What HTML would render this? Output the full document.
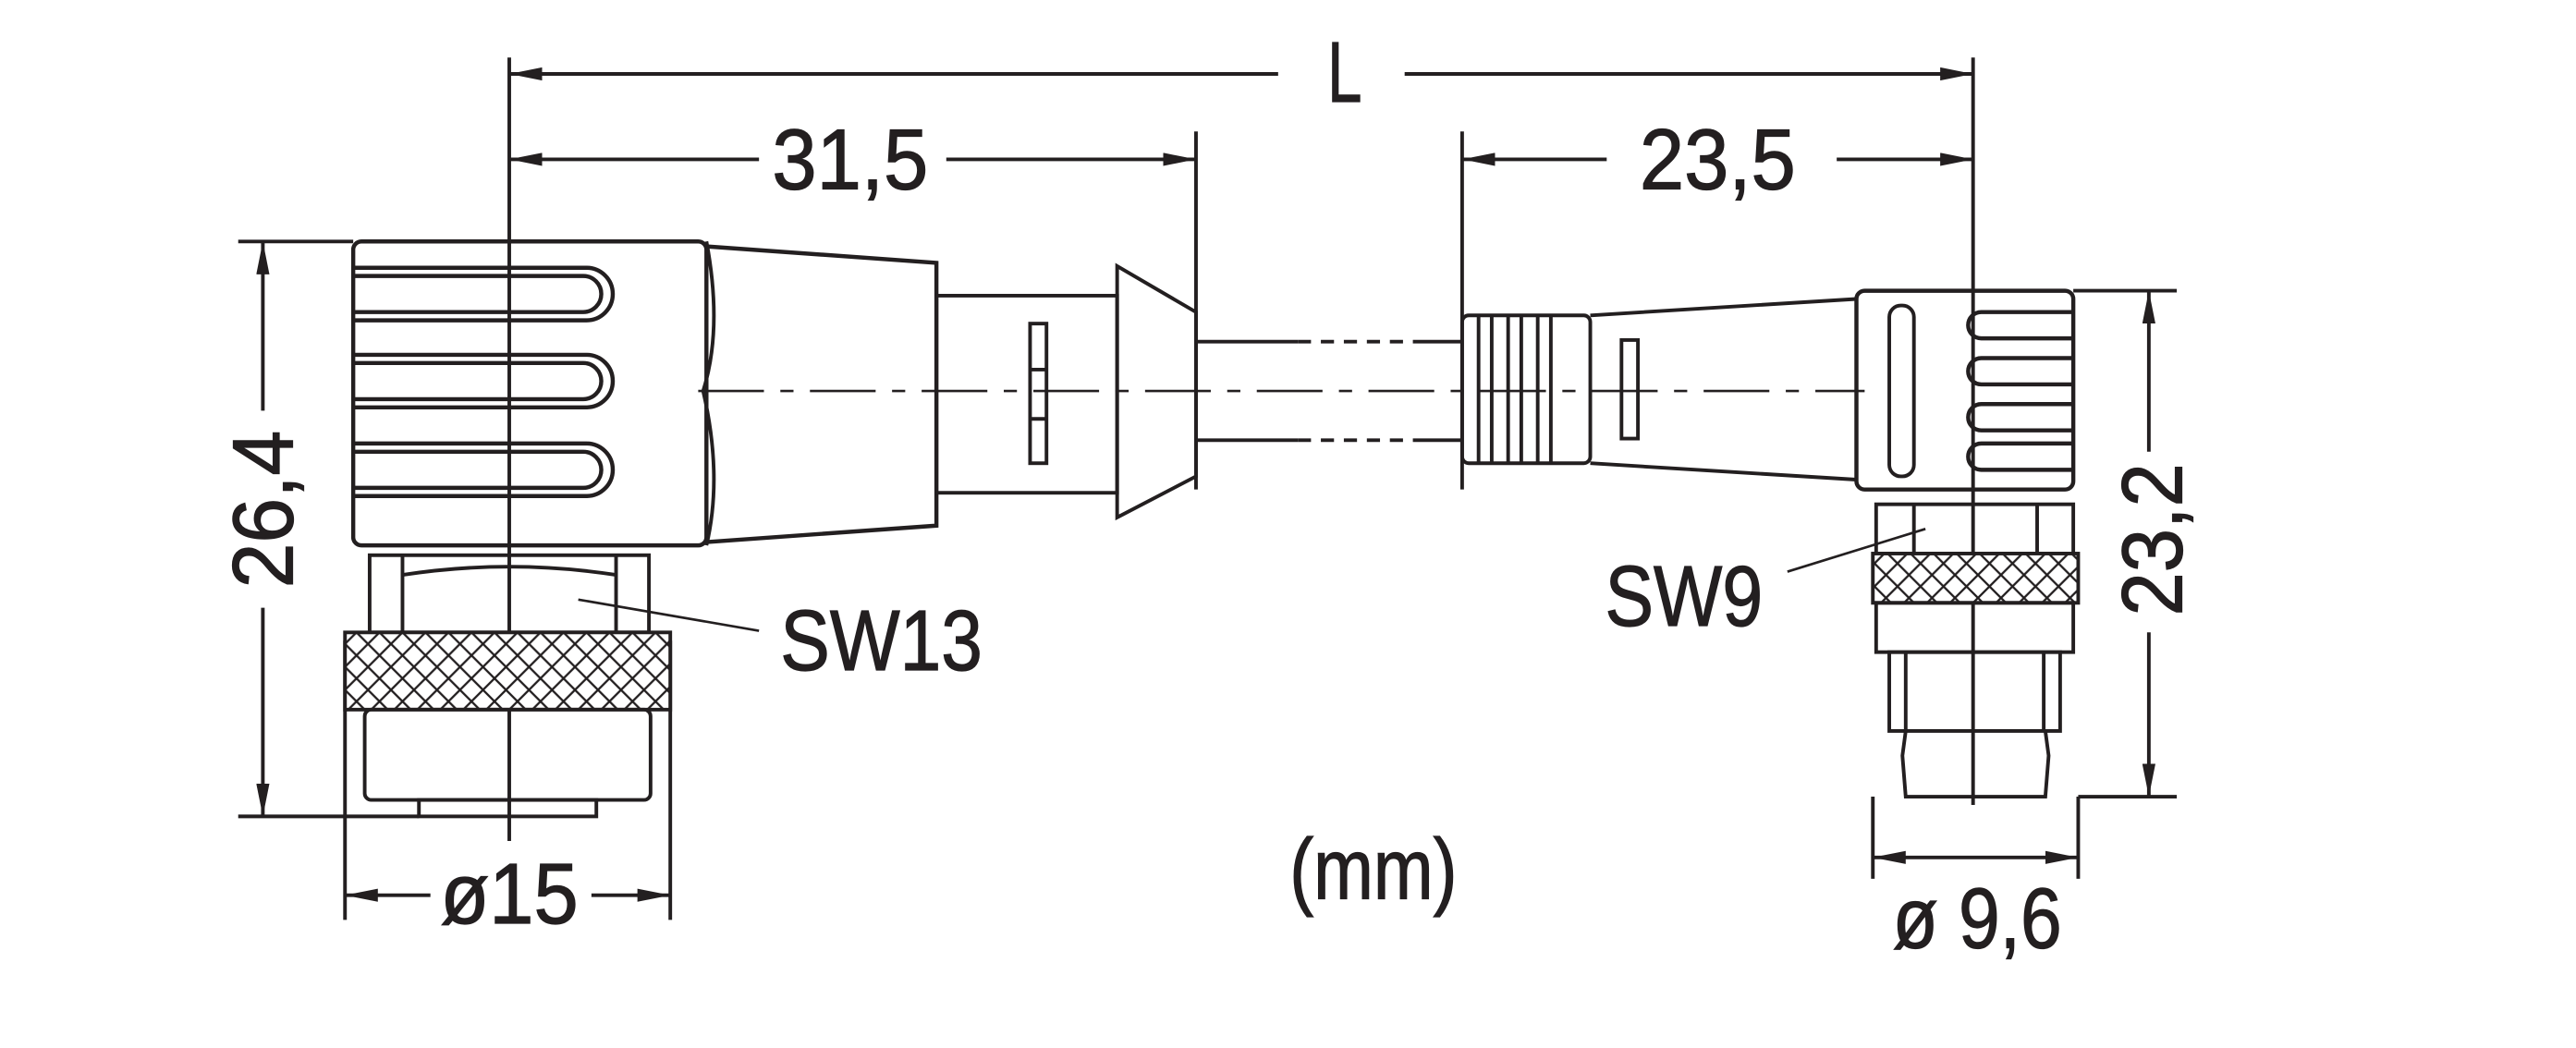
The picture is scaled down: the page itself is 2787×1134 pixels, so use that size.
<!DOCTYPE html>
<html><head><meta charset="utf-8"><style>
html,body{margin:0;padding:0;background:#fff;}
svg{display:block;}
text{font-family:"Liberation Sans Narrow","Liberation Sans",sans-serif;fill:#231f20;stroke:#231f20;stroke-width:0.7;}
</style></head><body>
<svg width="2787" height="1134" viewBox="0 0 1568 638" xmlns="http://www.w3.org/2000/svg">
<defs>
<pattern id="kn" width="14" height="14" patternUnits="userSpaceOnUse">
<rect width="14" height="14" fill="#fff"/>
<path d="M0 0L14 14M14 0L0 14M-7 7L7 21M7 -7L21 7M7 -7L-7 7M21 7L7 21" stroke="#231f20" stroke-width="1.3"/>
</pattern>
<marker id="a" viewBox="0 0 20 8" refX="20" refY="4" markerWidth="20" markerHeight="8" orient="auto-start-reverse" markerUnits="userSpaceOnUse">
<path d="M0 0L20 4L0 8Z" fill="#231f20"/></marker>
</defs>
<g stroke="#231f20" stroke-width="2.2" fill="none">
<line x1="310" y1="35" x2="310" y2="512"/>
<line x1="728" y1="80" x2="728" y2="298"/>
<line x1="890" y1="80" x2="890" y2="298"/>
<line x1="1201" y1="35" x2="1201" y2="490"/>
<line x1="145" y1="147" x2="215" y2="147"/>
<line x1="145" y1="497" x2="255" y2="497"/>
<line x1="1262" y1="177" x2="1325" y2="177"/>
<line x1="1265" y1="485" x2="1325" y2="485"/>
<line x1="210" y1="390" x2="210" y2="560"/>
<line x1="408" y1="390" x2="408" y2="560"/>
<line x1="1140" y1="485" x2="1140" y2="535"/>
<line x1="1265" y1="485" x2="1265" y2="535"/>
<line x1="310" y1="45" x2="778" y2="45" marker-start="url(#a)"/>
<line x1="855" y1="45" x2="1201" y2="45" marker-end="url(#a)"/>
<line x1="310" y1="97" x2="462" y2="97" marker-start="url(#a)"/>
<line x1="576" y1="97" x2="728" y2="97" marker-end="url(#a)"/>
<line x1="890" y1="97" x2="978" y2="97" marker-start="url(#a)"/>
<line x1="1118" y1="97" x2="1201" y2="97" marker-end="url(#a)"/>
<line x1="160" y1="147" x2="160" y2="250" marker-start="url(#a)"/>
<line x1="160" y1="370" x2="160" y2="497" marker-end="url(#a)"/>
<line x1="1308" y1="177" x2="1308" y2="275" marker-start="url(#a)"/>
<line x1="1308" y1="385" x2="1308" y2="485" marker-end="url(#a)"/>
<line x1="210" y1="545" x2="262" y2="545" marker-start="url(#a)"/>
<line x1="360" y1="545" x2="408" y2="545" marker-end="url(#a)"/>
<line x1="1140" y1="522" x2="1265" y2="522" marker-start="url(#a)" marker-end="url(#a)"/>
<line x1="352" y1="365" x2="462" y2="384" stroke-width="1.5"/>
<line x1="1088" y1="348" x2="1172" y2="322" stroke-width="1.5"/>
<line x1="425" y1="238" x2="1135" y2="238" stroke-dasharray="40 10 8 10" stroke-width="1.5"/>
<rect x="215" y="147" width="215" height="185" rx="5" stroke-width="2.5"/>
<path d="M430 147Q440 200 428 238Q440 290 430 332"/>
<path d="M430 150L570 160L570 320L430 330" stroke-width="2.5"/>
<g stroke-width="2.5">
<path d="M215 163H357A16 16 0 0 1 357 195H215"/><path d="M215 168H355A11 11 0 0 1 355 190H215"/>
<path d="M215 216H357A16 16 0 0 1 357 248H215"/><path d="M215 221H355A11 11 0 0 1 355 243H215"/>
<path d="M215 270H357A16 16 0 0 1 357 302H215"/><path d="M215 275H355A11 11 0 0 1 355 297H215"/>
</g>
<rect x="570" y="180" width="110" height="120"/>
<rect x="627" y="197" width="10" height="85"/>
<line x1="627" y1="225" x2="637" y2="225"/><line x1="627" y1="255" x2="637" y2="255"/>
<path d="M680 162L728 190L728 290L680 315Z"/>
<path d="M728 208H790M860 208H890"/><path d="M790 208H860" stroke-dasharray="8 6"/>
<path d="M728 268H790M860 268H890"/><path d="M790 268H860" stroke-dasharray="8 6"/>
<rect x="225" y="338" width="170" height="47"/>
<line x1="245" y1="338" x2="245" y2="385"/><line x1="375" y1="338" x2="375" y2="385"/>
<path d="M245 350Q310 340 375 350"/>
<rect x="210" y="385" width="198" height="47" fill="url(#kn)"/>
<rect x="222" y="432" width="174" height="55" rx="4"/>
<rect x="255" y="487" width="108" height="10"/>
<rect x="890" y="192" width="78" height="90" rx="4"/>
<g><line x1="900" y1="192" x2="900" y2="282"/><line x1="908" y1="192" x2="908" y2="282"/>
<line x1="918" y1="192" x2="918" y2="282"/><line x1="926" y1="192" x2="926" y2="282"/>
<line x1="936" y1="192" x2="936" y2="282"/><line x1="944" y1="192" x2="944" y2="282"/></g>
<path d="M968 192L1130 182M968 282L1130 292"/>
<rect x="987" y="207" width="10" height="60"/>
<rect x="1130" y="177" width="132" height="121" rx="5" stroke-width="2.5"/>
<rect x="1150" y="186" width="15" height="104" rx="7"/>
<g stroke-width="2.5">
<path d="M1262 190H1206A8 8 0 0 0 1206 206H1262"/>
<path d="M1262 218H1206A8 8 0 0 0 1206 234H1262"/>
<path d="M1262 246H1206A8 8 0 0 0 1206 262H1262"/>
<path d="M1262 270H1206A8 8 0 0 0 1206 286H1262"/>
</g>
<rect x="1142" y="307" width="120" height="30"/>
<line x1="1165" y1="307" x2="1165" y2="337"/><line x1="1240" y1="307" x2="1240" y2="337"/>
<rect x="1140" y="337" width="125" height="30" fill="url(#kn)"/>
<rect x="1142" y="367" width="120" height="30"/>
<rect x="1150" y="397" width="104" height="48"/>
<line x1="1160" y1="397" x2="1160" y2="445"/><line x1="1244" y1="397" x2="1244" y2="445"/>
<path d="M1160 445L1158 460L1160 485H1245L1247 460L1245 445"/>
</g>
<text x="808" y="62" font-size="52" textLength="21" lengthAdjust="spacingAndGlyphs">L</text>
<text x="470" y="115" font-size="52" textLength="95" lengthAdjust="spacingAndGlyphs">31,5</text>
<text x="998" y="115" font-size="52" textLength="95" lengthAdjust="spacingAndGlyphs">23,5</text>
<text font-size="52" textLength="96" lengthAdjust="spacingAndGlyphs" transform="translate(178 358) rotate(-90)">26,4</text>
<text font-size="52" textLength="93" lengthAdjust="spacingAndGlyphs" transform="translate(1328 375) rotate(-90)">23,2</text>
<text x="475" y="408" font-size="52" textLength="123" lengthAdjust="spacingAndGlyphs">SW13</text>
<text x="977" y="381" font-size="52" textLength="96" lengthAdjust="spacingAndGlyphs">SW9</text>
<text x="268" y="562" font-size="52" textLength="84" lengthAdjust="spacingAndGlyphs">ø15</text>
<text x="1152" y="577" font-size="52" textLength="103" lengthAdjust="spacingAndGlyphs">ø 9,6</text>
<text x="785" y="547" font-size="52" textLength="102" lengthAdjust="spacingAndGlyphs">(mm)</text>
</svg>
</body></html>
